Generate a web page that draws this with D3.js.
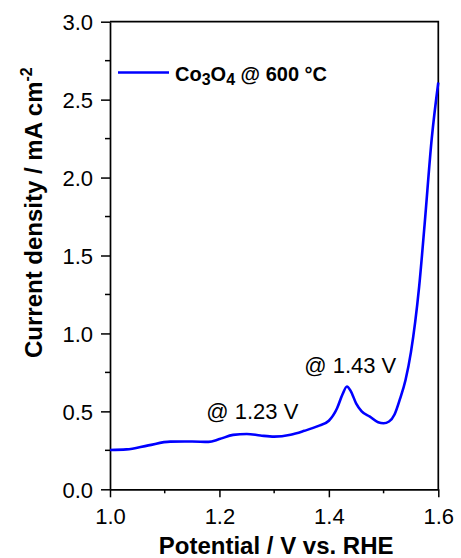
<!DOCTYPE html>
<html>
<head>
<meta charset="utf-8">
<script src="https://cdn.jsdelivr.net/npm/d3@7"></script>
<style>
  html, body { margin: 0; padding: 0; background: #fff; }
  svg { display: block; font-family: "Liberation Sans", Arial, Helvetica, sans-serif; }
</style>
</head>
<body>
<svg id="chart" width="461" height="558"></svg>
<script>
// ---- data ----
const potential = [1.00, 1.03, 1.07, 1.11, 1.15, 1.18, 1.20, 1.225, 1.25, 1.275, 1.30, 1.33, 1.355, 1.38, 1.40, 1.415, 1.425, 1.433, 1.44, 1.45, 1.46, 1.475, 1.49, 1.50, 1.51, 1.52, 1.53, 1.54, 1.55, 1.565, 1.575, 1.588, 1.60];
const current   = [0.252, 0.256, 0.282, 0.306, 0.307, 0.304, 0.322, 0.349, 0.355, 0.345, 0.338, 0.350, 0.375, 0.405, 0.440, 0.52, 0.61, 0.66, 0.63, 0.55, 0.50, 0.466, 0.430, 0.424, 0.435, 0.48, 0.58, 0.70, 0.88, 1.30, 1.70, 2.25, 2.61];
const xTicks = [1.0, 1.2, 1.4, 1.6];
const xMinor = [1.1, 1.3, 1.5];
const yTicks = [0.0, 0.5, 1.0, 1.5, 2.0, 2.5, 3.0];
const yMinor = [0.25, 0.75, 1.25, 1.75, 2.25, 2.75];
const annotations = [
  { text: "@ 1.23 V", x: 1.176, y: 0.45 },
  { text: "@ 1.43 V", x: 1.355, y: 0.745 }
];
const seriesName = "Co3O4 @ 600 °C";
const xTitle = "Potential / V vs. RHE";
const yTitle = "Current density / mA cm";

// ---- layout ----
const svg = d3.select("#chart");
const L = 110, R = 438.3, T = 21.7, B = 489.3;
const x = d3.scaleLinear().domain([1.0, 1.6]).range([L, R]);
const y = d3.scaleLinear().domain([0, 3.0]).range([B, T]);
const data = potential.map((p, i) => ({ p, c: current[i] }));

// frame (top and right)
svg.append("path")
  .attr("d", `M${L},${T} H${R} V${B}`)
  .attr("fill", "none").attr("stroke", "#000").attr("stroke-width", 1.7);

// x axis
const gx = svg.append("g").attr("transform", `translate(0,${B})`)
  .call(d3.axisBottom(x).tickValues(xTicks).tickFormat(d3.format(".1f")).tickSize(8).tickSizeOuter(0));
gx.selectAll(".minor").data(xMinor).enter().append("line")
  .attr("class", "minor").attr("x1", d => x(d)).attr("x2", d => x(d))
  .attr("y1", 0).attr("y2", 4).attr("stroke", "#000").attr("stroke-width", 1.5);

// y axis
const gy = svg.append("g").attr("transform", `translate(${L},0)`)
  .call(d3.axisLeft(y).tickValues(yTicks).tickFormat(d3.format(".1f")).tickSize(9).tickSizeOuter(0));
gy.selectAll(".minor").data(yMinor).enter().append("line")
  .attr("class", "minor").attr("y1", d => y(d)).attr("y2", d => y(d))
  .attr("x1", 0).attr("x2", -5).attr("stroke", "#000").attr("stroke-width", 1.5);

[gx, gy].forEach(g => {
  g.select(".domain").attr("stroke", "#000").attr("stroke-width", 1.7);
  g.selectAll(".tick line").attr("stroke", "#000").attr("stroke-width", 1.5);
  g.selectAll(".tick text").attr("fill", "#000")
    .style("font-family", '"Liberation Sans", Arial, sans-serif').style("font-size", "22px");
});
gx.selectAll(".tick text").attr("y", 35).attr("dy", 0);
gy.selectAll(".tick text").attr("x", -17).attr("dy", "0.36em");

// line
svg.append("path").datum(data)
  .attr("fill", "none").attr("stroke", "#0000ff").attr("stroke-width", 2.6)
  .attr("stroke-linejoin", "round")
  .attr("d", d3.line().x(d => x(d.p)).y(d => y(d.c)).curve(d3.curveMonotoneX));

// annotations
svg.selectAll(".ann").data(annotations).enter().append("text")
  .attr("class", "ann").attr("x", d => x(d.x)).attr("y", d => y(d.y))
  .style("font-size", "22px").attr("fill", "#000").text(d => d.text);

// legend
svg.append("line").attr("x1", 118).attr("x2", 169).attr("y1", 72.5).attr("y2", 72.5)
  .attr("stroke", "#0000ff").attr("stroke-width", 2.6);
const leg = svg.append("text").attr("x", 175).attr("y", 81)
  .style("font-size", "20px").style("font-weight", "bold").attr("fill", "#000");
leg.append("tspan").text("Co");
leg.append("tspan").attr("dy", 4).style("font-size", "16px").text("3");
leg.append("tspan").attr("dy", -4).text("O");
leg.append("tspan").attr("dy", 4).style("font-size", "16px").text("4");
leg.append("tspan").attr("dy", -4).text(" @ 600 °C");

// axis titles
svg.append("text").attr("x", (L + R) / 2 + 2).attr("y", 554)
  .attr("text-anchor", "middle").style("font-size", "24px").style("font-weight", "bold")
  .attr("fill", "#000").text(xTitle);

const yt = svg.append("text").attr("transform", "translate(42,358) rotate(-90)")
  .attr("text-anchor", "start").style("font-size", "24px").style("font-weight", "bold").attr("fill", "#000");
yt.append("tspan").text(yTitle);
yt.append("tspan").attr("dy", -10).style("font-size", "16px").text("-2");
</script>
</body>
</html>
